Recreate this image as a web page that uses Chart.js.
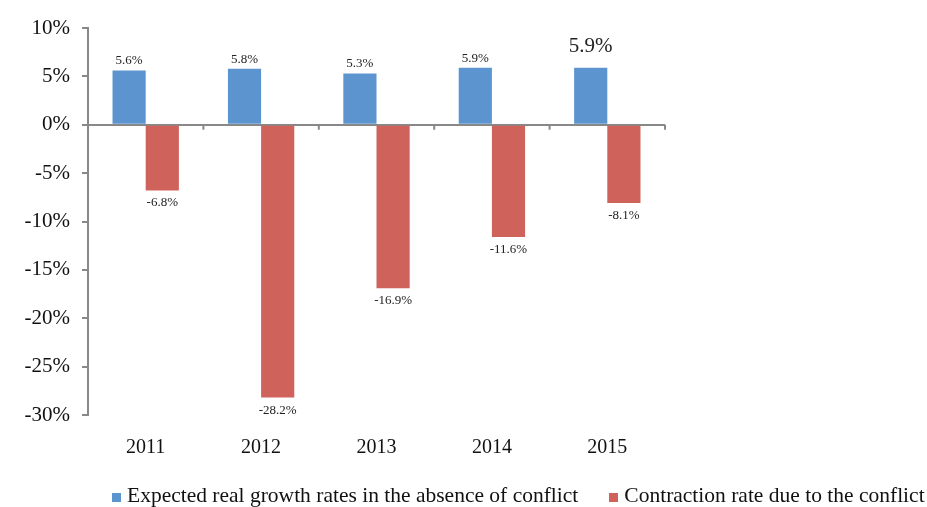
<!DOCTYPE html>
<html lang="en">
<head>
  <meta charset="UTF-8">
  <title>Growth vs contraction</title>
  <style>
    body { margin: 0; background: #fff; }
    .wrap { position: relative; width: 927px; height: 507px; }
    .legend { position: absolute; left: 112px; top: 483px; font-family: "Liberation Serif", serif; font-size: 21.5px; color: #111; white-space: nowrap; }
    .legend span.item { margin-right: 31px; }
    .legend i { display: inline-block; width: 9px; height: 9px; margin-right: 6px; }
  </style>
</head>
<body>
  <div class="wrap">
    <canvas id="myChart" width="927" height="507"></canvas>
    <div class="legend" id="legend"></div>
  </div>

  <script src="https://cdn.jsdelivr.net/npm/chart.js"></script>
  <script>
    const years = ['2011', '2012', '2013', '2014', '2015'];
    const expectedGrowth = [5.6, 5.8, 5.3, 5.9, 5.9];
    const contraction = [-6.8, -28.2, -16.9, -11.6, -8.1];
    const yTicks = [10, 5, 0, -5, -10, -15, -20, -25, -30];
    const seriesNames = ['Expected real growth rates in the absence of conflict', 'Contraction rate due to the conflict'];
    const colors = ['#5B94CE', '#CF625A'];

    // legend in html so it can span wider than the plot
    document.getElementById('legend').innerHTML = seriesNames
      .map((n, i) => `<span class="item"><i style="background:${colors[i]}"></i>${n}</span>`).join('');

    const serif = '"Liberation Serif", "Times New Roman", serif';

    // value labels above / below each bar
    const barLabels = {
      id: 'barLabels',
      afterDatasetsDraw(chart) {
        const ctx = chart.ctx;
        ctx.save();
        ctx.fillStyle = '#222';
        ctx.textAlign = 'center';
        chart.data.datasets.forEach((ds, d) => {
          chart.getDatasetMeta(d).data.forEach((bar, i) => {
            const v = ds.data[i];
            const big = d === 0 && i === 4;
            ctx.font = (big ? 21 : 13) + 'px ' + serif;
            if (v >= 0) {
              ctx.textBaseline = 'bottom';
              ctx.fillText(v.toFixed(1) + '%', bar.x, bar.y - (big ? 11 : 3));
            } else {
              ctx.textBaseline = 'top';
              ctx.fillText(v.toFixed(1) + '%', bar.x, bar.y + 6);
            }
          });
        });
        ctx.restore();
      }
    };

    // small tick marks on the zero line between categories
    const zeroTicks = {
      id: 'zeroTicks',
      afterDraw(chart) {
        const x = chart.scales.x, y = chart.scales.y;
        const y0 = y.getPixelForValue(0);
        const step = (x.right - x.left) / years.length;
        const ctx = chart.ctx;
        ctx.save();
        ctx.strokeStyle = '#888';
        ctx.lineWidth = 2;
        for (let i = 1; i <= years.length; i++) {
          ctx.beginPath();
          ctx.moveTo(x.left + i * step, y0);
          ctx.lineTo(x.left + i * step, y0 + 5);
          ctx.stroke();
        }
        ctx.restore();
      }
    };

    new Chart(document.getElementById('myChart'), {
      type: 'bar',
      data: {
        labels: years,
        datasets: [
          { label: seriesNames[0], data: expectedGrowth, backgroundColor: colors[0] },
          { label: seriesNames[1], data: contraction, backgroundColor: colors[1] }
        ]
      },
      options: {
        responsive: false,
        animation: false,
        layout: { padding: { top: 28, right: 262, bottom: 34, left: 0 } },
        datasets: { bar: { categoryPercentage: 0.575, barPercentage: 1 } },
        plugins: { legend: { display: false }, tooltip: { enabled: false } },
        scales: {
          x: {
            grid: { display: false },
            border: { display: false },
            ticks: { color: '#111', font: { family: serif, size: 20 }, padding: 13 }
          },
          y: {
            min: -30,
            max: 10,
            afterBuildTicks: s => { s.ticks = yTicks.map(v => ({ value: v })); },
            afterFit: s => { s.width = 88; },
            border: { display: true, color: '#888', width: 2 },
            grid: {
              color: c => (c.tick && c.tick.value === 0 ? '#888' : 'transparent'),
              tickColor: '#888',
              lineWidth: 2,
              tickLength: 6
            },
            ticks: {
              color: '#111',
              font: { family: serif, size: 21 },
              padding: 12,
              callback: v => v + '%'
            }
          }
        }
      },
      plugins: [barLabels, zeroTicks]
    });
  </script>
</body>
</html>
